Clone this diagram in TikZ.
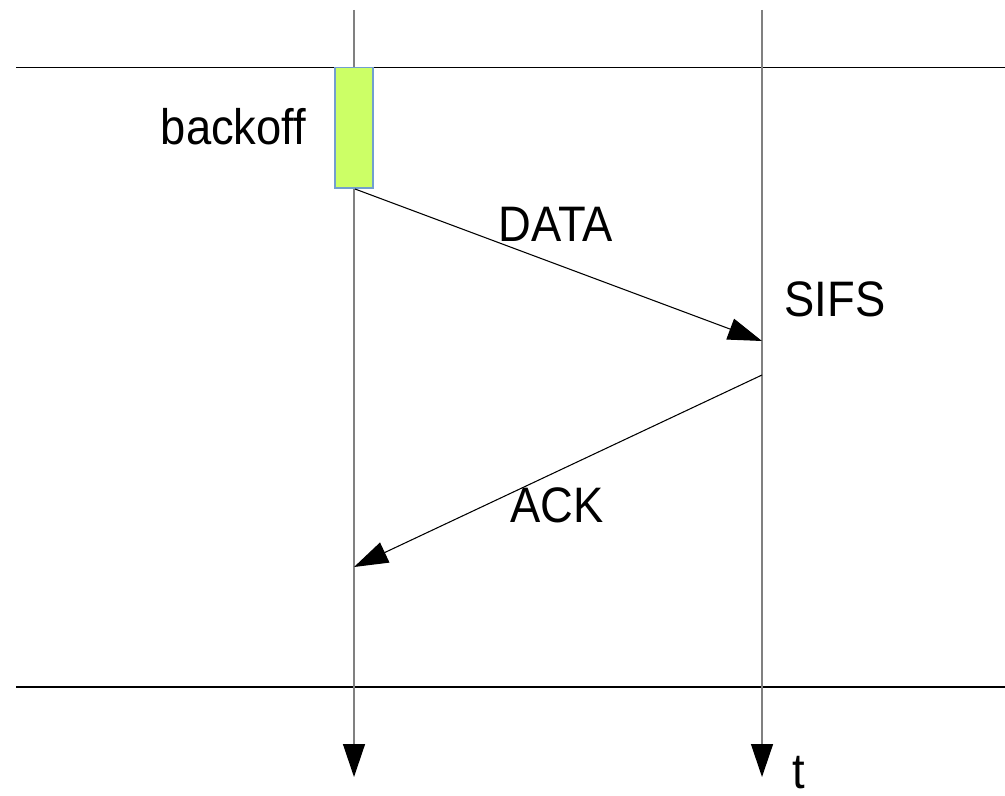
\documentclass[tikz,border=0pt]{standalone}
\usepackage{fontspec}
\setmainfont{Liberation Sans}
\usetikzlibrary{arrows.meta}
\definecolor{lifeline}{HTML}{808080}
\definecolor{boxfill}{HTML}{CCFF66}
\definecolor{boxedge}{HTML}{729FCF}
\newcommand{\tallText}[1]{\scalebox{1}[1.1]{#1}}
\tikzset{
  lbl/.style={font=\fontsize{34}{40}\selectfont, anchor=base, inner sep=0pt},
  lifelinestyle/.style={draw=lifeline, line width=1pt, -{Triangle[length=24.75pt, width=16.5pt, color=black]}},
  boundary/.style={draw=black, line width=0.8pt},
  msg/.style={draw=black, line width=0.8pt, -{Triangle[length=25.5pt, width=16.5pt]}},
  backoffbox/.style={draw=boxedge, fill=boxfill, line width=0.8pt},
}
\begin{document}
\begin{tikzpicture}[x=0.75pt, y=-0.75pt]
  \useasboundingbox (0,0) rectangle (1005,795);

  % time boundaries
  \coordinate (h1l) at (16,67.5);
  \coordinate (h1r) at (1005,67.5);
  \coordinate (h2l) at (16,687);
  \coordinate (h2r) at (1005,687);
  \draw[boundary] (h1l) -- (h1r);
  \draw[boundary] (h2l) -- (h2r);

  % station time axes
  \coordinate (sTop) at (354,10);
  \coordinate (sBot) at (354,777);
  \coordinate (rTop) at (762,10);
  \coordinate (rBot) at (762,777);
  \draw[lifelinestyle] (sTop) -- (sBot);
  \draw[lifelinestyle] (rTop) -- (rBot);

  % backoff interval
  \path[backoffbox] (335,67.5) rectangle (373,188);
  \node[lbl] (backoff) at (233.5,145) {\tallText{backoff}};

  % frames
  \coordinate (dataStart) at (355,189);
  \coordinate (dataEnd) at (762,341);
  \coordinate (ackStart) at (762,375);
  \coordinate (ackEnd) at (354,567);
  \draw[msg] (dataStart) -- (dataEnd);
  \draw[msg] (ackStart) -- (ackEnd);

  \node[lbl] (data) at (556,241) {\tallText{DATA}};
  \node[lbl] (sifs) at (835,316) {\tallText{SIFS}};
  \node[lbl] (ack) at (557,522) {\tallText{ACK}};
  \node[lbl] (t) at (799,788) {\tallText{t}};
\end{tikzpicture}
\end{document}
